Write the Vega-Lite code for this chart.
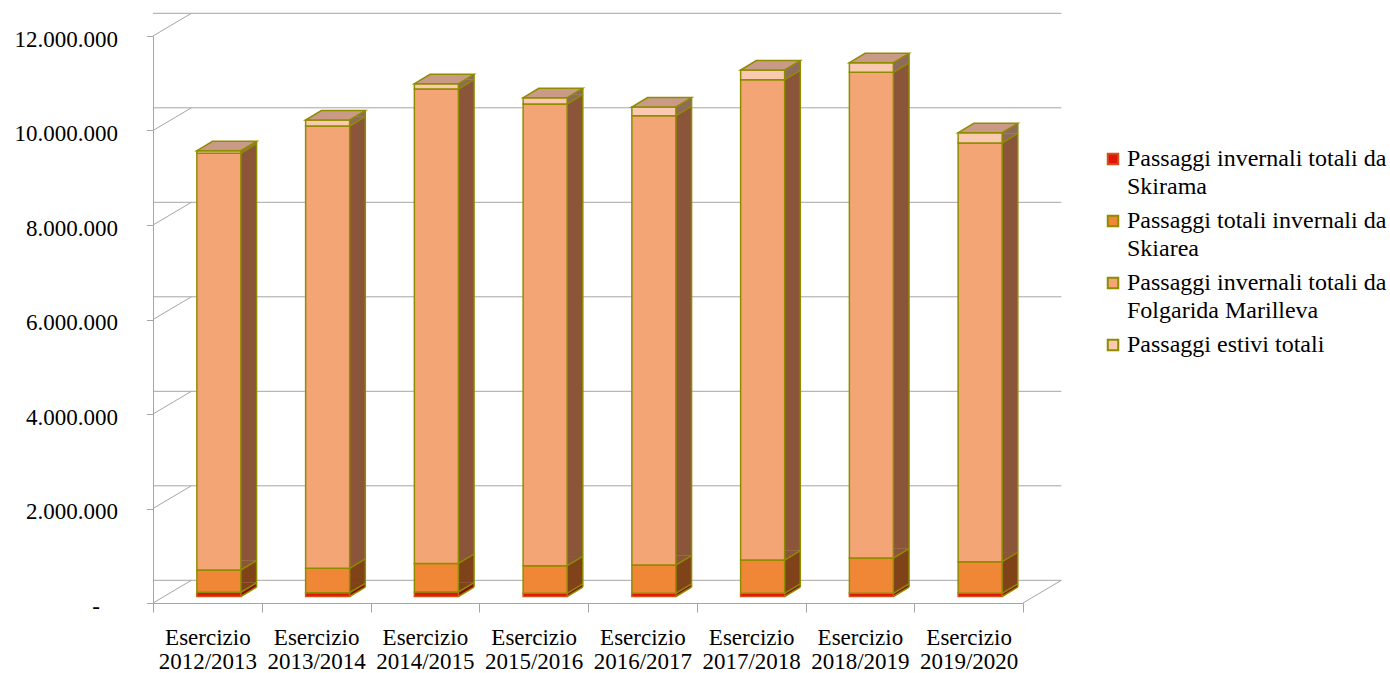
{
  "$schema": "https://vega.github.io/schema/vega-lite/v6.json",
  "width": 870,
  "height": 567,
  "autosize": {"type": "none"},
  "padding": {"left": 153, "top": 36, "right": 367, "bottom": 70},
  "background": "white",
  "config": {
    "view": {"stroke": null},
    "font": "Liberation Serif",
    "scale": {"bandPaddingInner": 0, "bandPaddingOuter": 0},
    "style": {"guide-label": {"lineHeight": 27.6}}
  },
  "datasets": {
    "passaggi": [
      {"esercizio": "Esercizio 2012/2013", "serie": "Passaggi invernali totali da Skirama", "ord": 1, "valore": 90000},
      {"esercizio": "Esercizio 2012/2013", "serie": "Passaggi totali invernali da Skiarea", "ord": 2, "valore": 471000},
      {"esercizio": "Esercizio 2012/2013", "serie": "Passaggi invernali totali da Folgarida Marilleva", "ord": 3, "valore": 8819000},
      {"esercizio": "Esercizio 2012/2013", "serie": "Passaggi estivi totali", "ord": 4, "valore": 55000},
      {"esercizio": "Esercizio 2013/2014", "serie": "Passaggi invernali totali da Skirama", "ord": 1, "valore": 80000},
      {"esercizio": "Esercizio 2013/2014", "serie": "Passaggi totali invernali da Skiarea", "ord": 2, "valore": 517000},
      {"esercizio": "Esercizio 2013/2014", "serie": "Passaggi invernali totali da Folgarida Marilleva", "ord": 3, "valore": 9361000},
      {"esercizio": "Esercizio 2013/2014", "serie": "Passaggi estivi totali", "ord": 4, "valore": 127000},
      {"esercizio": "Esercizio 2014/2015", "serie": "Passaggi invernali totali da Skirama", "ord": 1, "valore": 95000},
      {"esercizio": "Esercizio 2014/2015", "serie": "Passaggi totali invernali da Skiarea", "ord": 2, "valore": 605000},
      {"esercizio": "Esercizio 2014/2015", "serie": "Passaggi invernali totali da Folgarida Marilleva", "ord": 3, "valore": 10040000},
      {"esercizio": "Esercizio 2014/2015", "serie": "Passaggi estivi totali", "ord": 4, "valore": 113000},
      {"esercizio": "Esercizio 2015/2016", "serie": "Passaggi invernali totali da Skirama", "ord": 1, "valore": 68000},
      {"esercizio": "Esercizio 2015/2016", "serie": "Passaggi totali invernali da Skiarea", "ord": 2, "valore": 584000},
      {"esercizio": "Esercizio 2015/2016", "serie": "Passaggi invernali totali da Folgarida Marilleva", "ord": 3, "valore": 9771000},
      {"esercizio": "Esercizio 2015/2016", "serie": "Passaggi estivi totali", "ord": 4, "valore": 134000},
      {"esercizio": "Esercizio 2016/2017", "serie": "Passaggi invernali totali da Skirama", "ord": 1, "valore": 68000},
      {"esercizio": "Esercizio 2016/2017", "serie": "Passaggi totali invernali da Skiarea", "ord": 2, "valore": 599000},
      {"esercizio": "Esercizio 2016/2017", "serie": "Passaggi invernali totali da Folgarida Marilleva", "ord": 3, "valore": 9509000},
      {"esercizio": "Esercizio 2016/2017", "serie": "Passaggi estivi totali", "ord": 4, "valore": 184000},
      {"esercizio": "Esercizio 2017/2018", "serie": "Passaggi invernali totali da Skirama", "ord": 1, "valore": 68000},
      {"esercizio": "Esercizio 2017/2018", "serie": "Passaggi totali invernali da Skiarea", "ord": 2, "valore": 704000},
      {"esercizio": "Esercizio 2017/2018", "serie": "Passaggi invernali totali da Folgarida Marilleva", "ord": 3, "valore": 10166000},
      {"esercizio": "Esercizio 2017/2018", "serie": "Passaggi estivi totali", "ord": 4, "valore": 205000},
      {"esercizio": "Esercizio 2018/2019", "serie": "Passaggi invernali totali da Skirama", "ord": 1, "valore": 68000},
      {"esercizio": "Esercizio 2018/2019", "serie": "Passaggi totali invernali da Skiarea", "ord": 2, "valore": 747000},
      {"esercizio": "Esercizio 2018/2019", "serie": "Passaggi invernali totali da Folgarida Marilleva", "ord": 3, "valore": 10279000},
      {"esercizio": "Esercizio 2018/2019", "serie": "Passaggi estivi totali", "ord": 4, "valore": 203000},
      {"esercizio": "Esercizio 2019/2020", "serie": "Passaggi invernali totali da Skirama", "ord": 1, "valore": 68000},
      {"esercizio": "Esercizio 2019/2020", "serie": "Passaggi totali invernali da Skiarea", "ord": 2, "valore": 669000},
      {"esercizio": "Esercizio 2019/2020", "serie": "Passaggi invernali totali da Folgarida Marilleva", "ord": 3, "valore": 8861000},
      {"esercizio": "Esercizio 2019/2020", "serie": "Passaggi estivi totali", "ord": 4, "valore": 218000}
    ],
    "griglia": [
      {"v": 0}, {"v": 2000000}, {"v": 4000000}, {"v": 6000000},
      {"v": 8000000}, {"v": 10000000}, {"v": 12000000}
    ],
    "base": [{"v": 0}]
  },
  "layer": [
    {
      "data": {"name": "griglia"},
      "mark": {"type": "rule", "color": "#A6A6A6", "strokeWidth": 1, "xOffset": 38.4, "x2Offset": 38.4, "yOffset": -22.7},
      "encoding": {
        "y": {
          "field": "v", "type": "quantitative", "scale": {"domain": [0, 12000000], "nice": false},
          "axis": {
            "title": null, "values": [0, 2000000, 4000000, 6000000, 8000000, 10000000, 12000000],
            "labelExpr": "datum.value === 0 ? '-' : replace(replace(format(datum.value, ',.0f'), ',', '.'), ',', '.')",
            "labelFont": "Liberation Serif", "labelFontSize": 23, "labelColor": "black",
            "labelPadding": {"condition": {"test": "datum.value === 0", "value": 47}, "value": 29},
            "labelOffset": 3, "tickSize": 6.6, "tickColor": "#A6A6A6",
            "domainColor": "#A6A6A6", "grid": false
          }
        }
      }
    },
    {
      "data": {"name": "griglia"},
      "mark": {"type": "rule", "color": "#A6A6A6", "strokeWidth": 1, "y2Offset": -22.7},
      "encoding": {
        "x": {"value": 0},
        "x2": {"value": 38.4},
        "y": {"field": "v", "type": "quantitative", "scale": {"domain": [0, 12000000], "nice": false}},
        "y2": {"field": "v"}
      }
    },
    {
      "data": {"name": "base"},
      "mark": {"type": "rule", "color": "#A6A6A6", "strokeWidth": 1, "y2Offset": -22.7},
      "encoding": {
        "x": {"value": 870},
        "x2": {"value": 908.4},
        "y": {"field": "v", "type": "quantitative", "scale": {"domain": [0, 12000000], "nice": false}},
        "y2": {"field": "v"}
      }
    },
    {
      "data": {"name": "passaggi"},
      "transform": [
        {"stack": "valore", "groupby": ["esercizio"], "sort": [{"field": "ord"}], "as": ["y0", "y1"]}
      ],
      "layer": [
        {
          "mark": {"type": "bar", "width": 44, "xOffset": 27.2, "yOffset": -15.9, "y2Offset": -15.9},
          "encoding": {
            "x": {
              "field": "esercizio", "type": "nominal",
              "axis": {
                "title": null, "labelExpr": "split(datum.label, ' ')", "labelFont": "Liberation Serif",
                "labelFontSize": 23, "labelColor": "black", "labelAngle": 0, "labelLineHeight": 24,
                "labelPadding": 14, "tickBand": "extent", "tickSize": 9, "tickColor": "#A6A6A6",
                "domainColor": "#A6A6A6", "grid": false
              }
            },
            "y": {"field": "y0", "type": "quantitative", "scale": {"domain": [0, 12000000], "nice": false}},
            "y2": {"field": "y1"},
            "color": {
              "field": "ord", "type": "nominal", "legend": null,
              "scale": {"domain": [1, 2, 3, 4], "range": ["#8A0A06", "#7F4219", "#8A5538", "#8E6B5B"]}
            }
          }
        },
        {
          "mark": {"type": "point", "shape": "M22,0L22,-9.4L37.7,-9.4Z", "size": 4, "filled": true, "opacity": 1, "xOffset": 11.5, "yOffset": -6.5},
          "encoding": {
            "x": {"field": "esercizio", "type": "nominal"},
            "y": {"field": "y0", "type": "quantitative", "scale": {"domain": [0, 12000000], "nice": false}},
            "color": {
              "field": "ord", "type": "nominal", "legend": null,
              "scale": {"domain": [1, 2, 3, 4], "range": ["#8A0A06", "#7F4219", "#8A5538", "#8E6B5B"]}
            }
          }
        },
        {
          "mark": {"type": "bar", "width": 44, "xOffset": 11.5, "yOffset": -6.5, "y2Offset": -6.5, "strokeWidth": 1.5},
          "encoding": {
            "x": {"field": "esercizio", "type": "nominal"},
            "y": {"field": "y0", "type": "quantitative", "scale": {"domain": [0, 12000000], "nice": false}},
            "y2": {"field": "y1"},
            "fill": {
              "field": "serie", "type": "nominal",
              "scale": {
                "domain": ["Passaggi invernali totali da Skirama", "Passaggi totali invernali da Skiarea", "Passaggi invernali totali da Folgarida Marilleva", "Passaggi estivi totali"],
                "range": ["#E2130B", "#F08736", "#F4A575", "#F9CAAF"]
              },
              "legend": {
                "title": null, "orient": "none", "legendX": 948, "legendY": 111,
                "symbolType": "square", "symbolSize": 110, "symbolStrokeWidth": 2,
                "labelFont": "Liberation Serif", "labelFontSize": 24, "labelColor": "black",
                "labelLimit": 400, "labelOffset": 2, "rowPadding": 10,
                "labelExpr": "split(replace(datum.label, ' da ', ' da|'), '|')"
              }
            },
            "stroke": {
              "field": "serie", "type": "nominal",
              "scale": {
                "domain": ["Passaggi invernali totali da Skirama", "Passaggi totali invernali da Skiarea", "Passaggi invernali totali da Folgarida Marilleva", "Passaggi estivi totali"],
                "range": ["#D4521A", "#8F8C00", "#8F8C00", "#8F8C00"]
              },
              "legend": {
                "title": null, "orient": "none", "legendX": 948, "legendY": 111,
                "symbolType": "square", "symbolSize": 110, "symbolStrokeWidth": 2,
                "labelFont": "Liberation Serif", "labelFontSize": 24, "labelColor": "black",
                "labelLimit": 400, "labelOffset": 2, "rowPadding": 10,
                "labelExpr": "split(replace(datum.label, ' da ', ' da|'), '|')"
              }
            }
          }
        },
        {
          "mark": {"type": "point", "shape": "M22,0L37.7,-9.4", "size": 4, "filled": false, "opacity": 1, "stroke": "#8F8C00", "strokeWidth": 1.5, "xOffset": 11.5, "yOffset": -6.5},
          "encoding": {
            "x": {"field": "esercizio", "type": "nominal"},
            "y": {"field": "y0", "type": "quantitative", "scale": {"domain": [0, 12000000], "nice": false}}
          }
        }
      ]
    },
    {
      "data": {"name": "passaggi"},
      "transform": [
        {"aggregate": [{"op": "sum", "field": "valore", "as": "totale"}], "groupby": ["esercizio"]}
      ],
      "layer": [
        {
          "mark": {"type": "rule", "stroke": "#8F8C00", "strokeWidth": 1.5, "xOffset": 49.2, "yOffset": -15.9, "y2Offset": -15.9},
          "encoding": {
            "x": {"field": "esercizio", "type": "nominal"},
            "y": {"field": "totale", "type": "quantitative", "scale": {"domain": [0, 12000000], "nice": false}},
            "y2": {"datum": 0}
          }
        },
        {
          "mark": {"type": "point", "shape": "M-22,0L22,0L37.7,-9.4L-6.3,-9.4Z", "size": 4, "filled": true, "opacity": 1, "fill": "#C99B87", "stroke": "#8F8C00", "strokeWidth": 1.5, "xOffset": 11.5, "yOffset": -6.5},
          "encoding": {
            "x": {"field": "esercizio", "type": "nominal"},
            "y": {"field": "totale", "type": "quantitative", "scale": {"domain": [0, 12000000], "nice": false}}
          }
        }
      ]
    }
  ]
}
